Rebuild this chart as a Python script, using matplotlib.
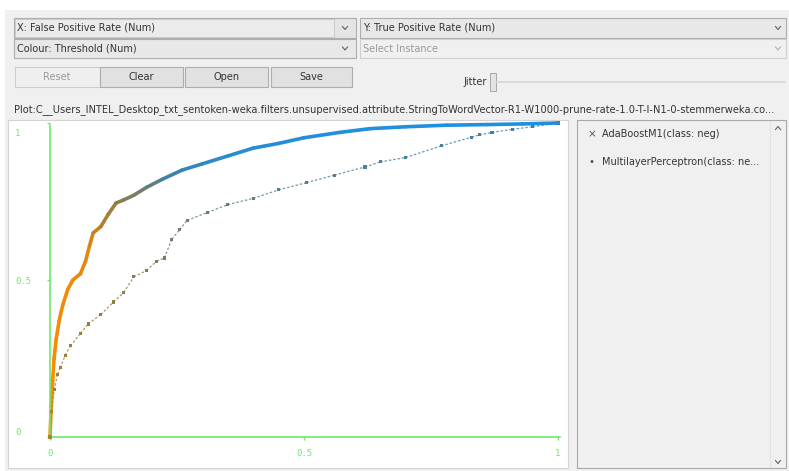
import numpy as np
import matplotlib.pyplot as plt
from matplotlib.patches import Rectangle
from matplotlib.collections import LineCollection
from matplotlib.colors import LinearSegmentedColormap
from matplotlib.transforms import ScaledTranslation

W, H = 789, 471

# ROC points
ada_fpr = [0, 0.002, 0.005, 0.008, 0.012, 0.018, 0.025, 0.035, 0.045, 0.06, 0.07,
           0.078, 0.085, 0.10, 0.115, 0.13, 0.145, 0.165, 0.19, 0.22, 0.26, 0.30,
           0.35, 0.40, 0.45, 0.50, 0.57, 0.63, 0.70, 0.78, 0.86, 0.93, 1.0]
ada_tpr = [0, 0.08, 0.17, 0.25, 0.31, 0.37, 0.42, 0.47, 0.50, 0.52, 0.56,
           0.61, 0.65, 0.67, 0.71, 0.745, 0.755, 0.77, 0.795, 0.82, 0.85, 0.87,
           0.895, 0.92, 0.935, 0.953, 0.97, 0.982, 0.988, 0.993, 0.995, 0.997, 1.0]
ada_thr = [1.0, 0.99, 0.98, 0.97, 0.96, 0.95, 0.94, 0.93, 0.92, 0.90, 0.88,
           0.84, 0.78, 0.68, 0.60, 0.54, 0.50, 0.45, 0.38, 0.30, 0.20, 0.13,
           0.08, 0.06, 0.04, 0.03, 0.02, 0.015, 0.01, 0.007, 0.004, 0.002, 0.0]

mlp_fpr = [0, 0.003, 0.008, 0.015, 0.02, 0.03, 0.04, 0.06, 0.075, 0.10, 0.125,
           0.145, 0.165, 0.19, 0.21, 0.225, 0.24, 0.255, 0.27, 0.31, 0.35, 0.40,
           0.45, 0.505, 0.56, 0.62, 0.65, 0.70, 0.77, 0.83, 0.845, 0.87, 0.91,
           0.95, 1.0]
mlp_tpr = [0, 0.08, 0.15, 0.20, 0.22, 0.26, 0.29, 0.33, 0.36, 0.39, 0.43,
           0.46, 0.51, 0.53, 0.56, 0.57, 0.63, 0.66, 0.69, 0.715, 0.74, 0.76,
           0.787, 0.81, 0.834, 0.86, 0.876, 0.89, 0.927, 0.955, 0.962, 0.97, 0.98,
           0.988, 1.0]
mlp_thr = [0.64, 0.63, 0.62, 0.61, 0.60, 0.59, 0.58, 0.57, 0.56, 0.55, 0.54,
           0.52, 0.50, 0.48, 0.46, 0.44, 0.42, 0.40, 0.38, 0.36, 0.35, 0.34,
           0.33, 0.32, 0.31, 0.30, 0.29, 0.29, 0.28, 0.27, 0.27, 0.26, 0.26,
           0.25, 0.24]

legend_names = ["AdaBoostM1(class: neg)", "MultilayerPerceptron(class: ne..."]
legend_marks = ["\u00d7", "\u2022"]
x_ticks = [0, 0.5, 1]
x_labels = ["0", "0.5", "1"]
y_ticks = [0, 0.5, 1]
y_labels = ["0", "0.5", "1"]

plot_title = ("Plot:C__Users_INTEL_Desktop_txt_sentoken-weka.filters.unsupervised."
              "attribute.StringToWordVector-R1-W1000-prune-rate-1.0-T-I-N1-0-stemmerweka.co...")

cmap = LinearSegmentedColormap.from_list(
    "thr", ["#1e90e0", "#3f82a8", "#8a7d4c", "#c8841c", "#ff8c00"])
green = "#6ee86e"

fig = plt.figure(figsize=(W / 100, H / 100), dpi=100)
fig.patch.set_facecolor("white")

# pixel-space axes for the GUI chrome
gui = fig.add_axes([0, 0, 1, 1])
gui.set_xlim(0, W)
gui.set_ylim(H, 0)
gui.axis("off")


def box(x0, y0, x1, y1, fc, ec="#adadad", lw=0.8):
    gui.add_patch(Rectangle((x0, y0), x1 - x0, y1 - y0, facecolor=fc,
                            edgecolor=ec, linewidth=lw))


def label(x, y, s, color="#333333", size=7, ha="left"):
    gui.text(x, y, s, color=color, fontsize=size, ha=ha, va="center",
             family="DejaVu Sans")


def chevron(x, y, up=False, color="#606060"):
    d = -1.5 if up else 1.5
    gui.plot([x - 2.5, x, x + 2.5], [y - d, y + d, y - d], color=color, lw=0.8)


box(5, 10, W, H, "#f0f0f0", ec="none")

# combo boxes
box(14, 18, 356, 38, "#e5e5e5")
box(15, 19, 334, 37, "#ebebeb", ec="#c6c6c6", lw=0.6)
label(17, 28, "X: False Positive Rate (Num)")
chevron(345, 28)
box(360, 18, 786, 38, "#e8e8e8")
label(363, 28, "Y: True Positive Rate (Num)")
chevron(778, 28)
box(14, 39, 356, 58, "#e8e8e8")
label(17, 48.5, "Colour: Threshold (Num)")
chevron(345, 48.5)
box(360, 39, 786, 58, "#f0f0f0", ec="#cfcfcf")
label(363, 48.5, "Select Instance", color="#9a9a9a")
chevron(778, 48.5, color="#b0b0b0")

# buttons
box(15, 67, 100, 87, "#efefef", ec="#cdcdcd")
label(57, 77, "Reset", color="#9a9a9a", ha="center")
for x0, x1, name in [(100, 183, "Clear"), (185, 268, "Open"), (271, 352, "Save")]:
    box(x0, 67, x1, 87, "#e1e1e1")
    label((x0 + x1) / 2, 77, name, ha="center")

# jitter slider
label(487, 82, "Jitter", ha="right")
gui.plot([496, 785], [82, 82], color="#d6d6d6", lw=1.2)
box(490, 73, 496, 91, "#e4e4e4", ec="#a8a8a8", lw=0.7)

label(14, 110, plot_title, size=7.1)

# plot canvas and legend panel
box(8, 120, 568, 468, "white", ec="#d4d4d4")
box(577, 120, 786, 468, "#f0f0f0", ec="#a8a8a8")
gui.plot([770, 770], [121, 467], color="#e2e2e2", lw=0.8)
chevron(778, 128, up=True)
chevron(778, 462)
for i, (name, mk) in enumerate(zip(legend_names, legend_marks)):
    y = 134 + i * 28
    label(592, y, mk, color="#555555", size=7.5, ha="center")
    label(602, y, name, size=7)

# ROC axes
ax = fig.add_axes([50 / W, 1 - 437 / H, 508 / W, 314 / H])
ax.set_xlim(0, 1)
ax.set_ylim(0, 1)
ax.patch.set_alpha(0)
for s in ["top", "right"]:
    ax.spines[s].set_visible(False)
for s in ["left", "bottom"]:
    ax.spines[s].set_color(green)
    ax.spines[s].set_linewidth(1.2)
ax.spines["left"].set_bounds(0, 0.994)
ax.spines["bottom"].set_bounds(0, 1.004)
ax.set_xticks(x_ticks)
ax.set_xticklabels(x_labels)
ax.set_yticks(y_ticks)
ax.set_yticklabels(y_labels, ha="left")
ax.tick_params(colors=green, length=2, width=1, labelsize=6.5)
ax.tick_params(axis="x", pad=7)
ax.tick_params(axis="y", pad=23)
for t in ax.get_xticklabels() + ax.get_yticklabels():
    t.set_family("DejaVu Sans Mono")
ylab = ax.get_yticklabels()
ylab[0].set_va("bottom")
ylab[2].set_va("top")
ylab[2].set_transform(ylab[2].get_transform() +
                      ScaledTranslation(0, -4 / 72, fig.dpi_scale_trans))

# AdaBoost curve, coloured by threshold
pts = np.column_stack([ada_fpr, ada_tpr])
segs = np.stack([pts[:-1], pts[1:]], axis=1)
thr = np.array(ada_thr)
lc = LineCollection(segs, colors=cmap((thr[:-1] + thr[1:]) / 2), linewidths=2.6,
                    capstyle="round", joinstyle="round", clip_on=False)
ax.add_collection(lc)

# MultilayerPerceptron curve
pts = np.column_stack([mlp_fpr, mlp_tpr])
segs = np.stack([pts[:-1], pts[1:]], axis=1)
thr = np.array(mlp_thr)
lc2 = LineCollection(segs, colors=cmap((thr[:-1] + thr[1:]) / 2), linewidths=0.9,
                     linestyles=(0, (2, 1.5)), alpha=0.8, clip_on=False)
ax.add_collection(lc2)
ax.scatter(mlp_fpr, mlp_tpr, c=cmap(thr), marker="s", s=5, linewidths=0,
           clip_on=False, zorder=3)

fig.savefig("out.png", dpi=100)
